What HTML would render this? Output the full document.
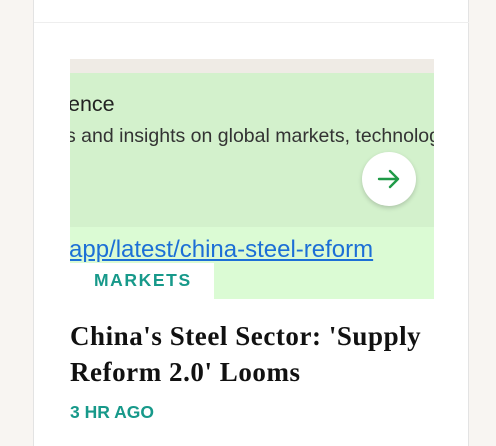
<!DOCTYPE html>
<html><head><meta charset="utf-8"><style>
html,body{margin:0;width:496px;height:446px;overflow:hidden}
body{background:#f8f5f2;position:relative;font-family:"Liberation Sans",sans-serif}
.card{position:absolute;left:33px;top:-2px;width:436px;height:450px;background:#fff;border:1px solid #e3e3e3;box-sizing:border-box}
.hr{position:absolute;left:34px;top:22px;width:435px;height:1px;background:#eeeeee}
.img{position:absolute;left:70px;top:59px;width:364px;height:240px;background:#efebe5;overflow:hidden}
.g1{position:absolute;left:0;top:14px;width:364px;height:154px;background:#d3f1cc}
.g2{position:absolute;left:0;top:168px;width:364px;height:114px;background:#dbfbd4;border-bottom:1px solid #cfcfcf}
.t{position:absolute;white-space:nowrap;color:#222}
.circ{position:absolute;left:292px;top:93px;width:54px;height:54px;border-radius:50%;background:#fff;box-shadow:0 2px 5px rgba(0,0,0,.18)}
.mk{position:absolute;left:70px;top:263px;width:144px;height:36px;background:#fff}
</style></head><body>
<div class="card"></div>
<div class="hr"></div>
<div class="img">
 <div class="g1"></div>
 <div class="g2"></div>
 <div class="t" style="left:-2px;top:33px;font-size:21.5px">ence</div>
 <div class="t" style="left:-4px;top:66px;font-size:19.5px;color:#333">s and insights on global markets, technology</div>
 <div class="circ"><svg width="54" height="54"><path d="M17 27H36M28 19L36 27L28 35" stroke="#1f9a47" stroke-width="2.4" fill="none" stroke-linecap="round" stroke-linejoin="round"/></svg></div>
 <div class="t" style="left:-1px;top:177px;font-size:24px;color:#1c6fd6;text-decoration:underline">app/latest/china-steel-reform</div>
</div>
<div class="mk"></div>
<div class="t" style="left:94px;top:270px;font-size:17.5px;font-weight:bold;letter-spacing:1.6px;color:#17998a">MARKETS</div>
<div class="t" style="left:70px;top:318px;font-family:'Liberation Serif',serif;font-weight:bold;font-size:27px;letter-spacing:0.55px;line-height:36px;color:#111">China's Steel Sector: 'Supply<br>Reform 2.0' Looms</div>
<div class="t" style="left:70px;top:402px;font-size:17.5px;font-weight:bold;color:#17998a">3 HR AGO</div>
</body></html>
